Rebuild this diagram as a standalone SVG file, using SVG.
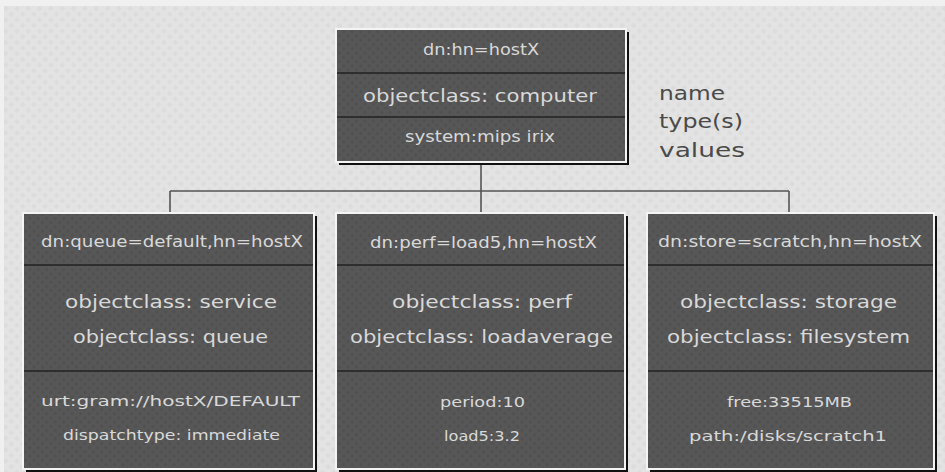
<svg xmlns="http://www.w3.org/2000/svg" width="945" height="472" viewBox="0 0 945 472">
<style>
.bg{fill:#e3e3e3}
.shadow{fill:#111}
.box{fill:#575757;stroke:#f4f4f4;stroke-width:2}
.div{stroke:#2e2e2e;stroke-width:2}
.t{font-family:"DejaVu Sans",Verdana,sans-serif;fill:#d9d9d9;text-anchor:start}
.h{font-size:15px}
.c{font-size:17.5px}
.v{font-size:14px}
.lbl{font-family:"DejaVu Sans",Verdana,sans-serif;fill:#4a4a4a;font-size:20px}
.conn{stroke:#555;stroke-width:1.6;fill:none}
</style>
<defs>
<pattern id="tex" width="8" height="8" patternUnits="userSpaceOnUse" patternTransform="rotate(45)">
<rect width="8" height="8" fill="#e3e3e3"/>
<rect width="4" height="4" fill="#dcdcdc"/>
</pattern>
<pattern id="btex" width="6" height="6" patternUnits="userSpaceOnUse" patternTransform="rotate(45)">
<rect width="6" height="6" fill="#575757"/>
<rect width="3" height="3" fill="#515151"/>
</pattern>
</defs>
<rect x="0" y="0" width="945" height="472" fill="#f0f0f0"/>
<rect x="4" y="6" width="941" height="466" fill="url(#tex)"/>

<g id="connectors">
<path class="conn" d="M481 165 V213"/>
<path class="conn" d="M170 191 H789"/>
<path class="conn" d="M170 191 V213"/>
<path class="conn" d="M789 191 V213"/>
</g>

<g id="node-host">
<rect class="shadow" x="339" y="32" width="290" height="133"/>
<rect class="box" x="336" y="29" width="290" height="133" style="fill:url(#btex)"/>
<line class="div" x1="337" y1="73" x2="625" y2="73"/>
<line class="div" x1="337" y1="117" x2="625" y2="117"/>
<text class="t h" x="423" y="55" textLength="116" lengthAdjust="spacingAndGlyphs" style="font-size:16px">dn:hn=hostX</text>
<text class="t c" x="363" y="102" textLength="234" lengthAdjust="spacingAndGlyphs">objectclass: computer</text>
<text class="t v" x="405" y="142" textLength="150" lengthAdjust="spacingAndGlyphs" style="font-size:15px">system:mips irix</text>
</g>

<g id="labels">
<text class="lbl" x="659" y="100" textLength="66" lengthAdjust="spacingAndGlyphs">name</text>
<text class="lbl" x="659" y="128" textLength="84" lengthAdjust="spacingAndGlyphs">type(s)</text>
<text class="lbl" x="659" y="157" textLength="86" lengthAdjust="spacingAndGlyphs">values</text>
</g>

<g id="node-queue">
<rect class="shadow" x="26" y="216" width="291" height="256"/>
<rect class="box" x="23" y="213" width="291" height="256" style="fill:url(#btex)"/>
<line class="div" x1="24" y1="265" x2="313" y2="265"/>
<line class="div" x1="24" y1="371" x2="313" y2="371"/>
<text class="t h" x="41" y="247" textLength="262" lengthAdjust="spacingAndGlyphs">dn:queue=default,hn=hostX</text>
<text class="t c" x="65" y="308" textLength="212" lengthAdjust="spacingAndGlyphs">objectclass: service</text>
<text class="t c" x="73" y="343" textLength="195" lengthAdjust="spacingAndGlyphs">objectclass: queue</text>
<text class="t v" x="41" y="406" textLength="259" lengthAdjust="spacingAndGlyphs">urt:gram://hostX/DEFAULT</text>
<text class="t v" x="63" y="440" textLength="217" lengthAdjust="spacingAndGlyphs">dispatchtype: immediate</text>
</g>

<g id="node-perf">
<rect class="shadow" x="339" y="216" width="289" height="256"/>
<rect class="box" x="336" y="213" width="289" height="256" style="fill:url(#btex)"/>
<line class="div" x1="337" y1="265" x2="624" y2="265"/>
<line class="div" x1="337" y1="371" x2="624" y2="371"/>
<text class="t h" x="370" y="248" textLength="227" lengthAdjust="spacingAndGlyphs">dn:perf=load5,hn=hostX</text>
<text class="t c" x="392" y="308" textLength="180" lengthAdjust="spacingAndGlyphs">objectclass: perf</text>
<text class="t c" x="350" y="343" textLength="263" lengthAdjust="spacingAndGlyphs">objectclass: loadaverage</text>
<text class="t v" x="440" y="407" textLength="85" lengthAdjust="spacingAndGlyphs">period:10</text>
<text class="t v" x="444" y="441" textLength="76" lengthAdjust="spacingAndGlyphs">load5:3.2</text>
</g>

<g id="node-storage">
<rect class="shadow" x="650" y="216" width="287" height="256"/>
<rect class="box" x="647" y="213" width="287" height="256" style="fill:url(#btex)"/>
<line class="div" x1="648" y1="265" x2="933" y2="265"/>
<line class="div" x1="648" y1="371" x2="933" y2="371"/>
<text class="t h" x="658" y="247" textLength="264" lengthAdjust="spacingAndGlyphs">dn:store=scratch,hn=hostX</text>
<text class="t c" x="680" y="308" textLength="217" lengthAdjust="spacingAndGlyphs">objectclass: storage</text>
<text class="t c" x="667" y="343" textLength="243" lengthAdjust="spacingAndGlyphs">objectclass: filesystem</text>
<text class="t v" x="727" y="407" textLength="125" lengthAdjust="spacingAndGlyphs">free:33515MB</text>
<text class="t v" x="689" y="441" textLength="198" lengthAdjust="spacingAndGlyphs">path:/disks/scratch1</text>
</g>
</svg>
